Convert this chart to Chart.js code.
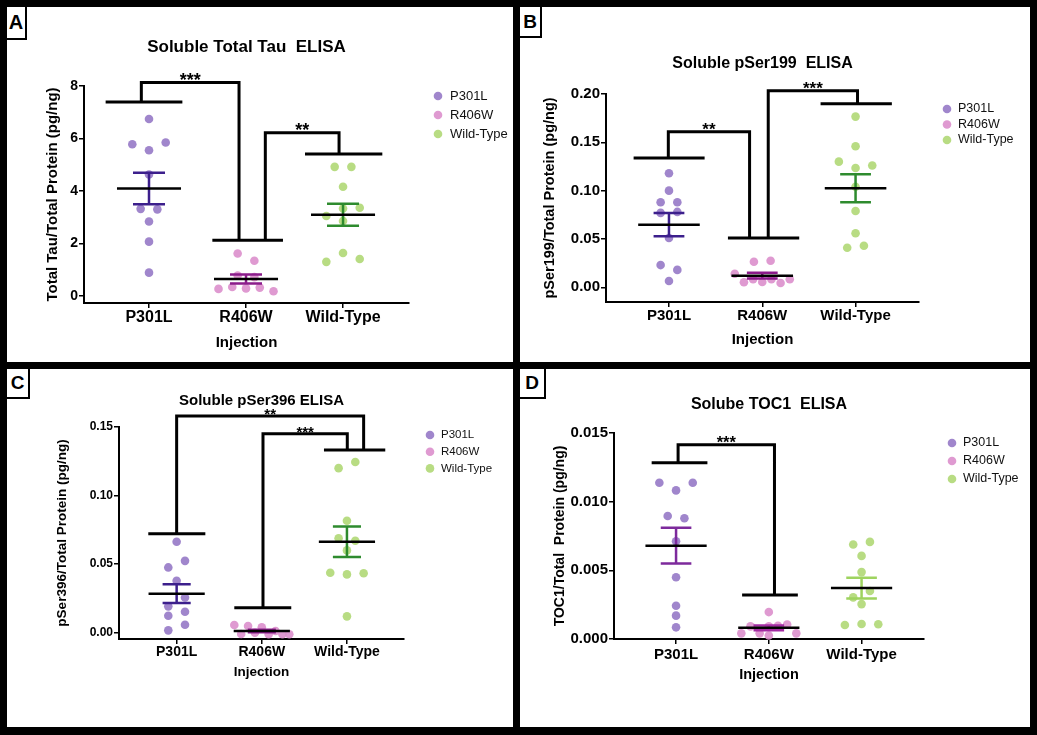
<!DOCTYPE html>
<html>
<head>
<meta charset="utf-8">
<script src="https://cdn.jsdelivr.net/npm/chart.js@4.4.1/dist/chart.umd.min.js"></script>
<style>
  html, body { margin: 0; padding: 0; background: #000; }
  body { width: 1037px; height: 735px; position: relative; overflow: hidden; font-family: 'Liberation Sans', Arial, sans-serif; }
  .panel { position: absolute; background: #fff; }
  .panel canvas { position: absolute; left: 0; top: 0; }
  .tag { position: absolute; left: 0; top: 0; box-sizing: border-box; background: #fff;
         border-right: 2px solid #000; border-bottom: 2px solid #000; font-weight: bold;
         display: flex; align-items: center; justify-content: center; color: #000; }
</style>
</head>
<body>
<script>
const groups = ['P301L', 'R406W', 'Wild-Type'];

// Soluble total tau (pg/ng)
const tauP301L = [6.74, 5.78, 5.55, 5.85, 4.63, 3.32, 3.30, 2.84, 2.07, 0.89];
const tauR406W = [1.62, 1.34, 0.78, 0.72, 0.27, 0.34, 0.29, 0.32, 0.18];
const tauWT = [4.92, 4.92, 4.16, 3.05, 3.33, 3.36, 2.86, 1.30, 1.64, 1.41];
const tauTicks = [0, 2, 4, 6, 8];
const tauBars = [[-0.447, 0.344, 7.39], [0.653, 1.381, 2.12], [1.608, 2.405, 5.41]];
const tauBrackets = [
  { from: -0.079, fromY: 7.39, to: 0.928, toY: 2.12, top: 8.13, stars: '***' },
  { from: 1.199, fromY: 2.12, to: 1.959, toY: 5.41, top: 6.22, stars: '**' }
];

// Soluble pSer199
const s199P301L = [0.118, 0.100, 0.088, 0.088, 0.077, 0.078, 0.051, 0.023, 0.018, 0.0066];
const s199R406W = [0.0265, 0.0275, 0.0140, 0.0052, 0.0083, 0.0055, 0.0083, 0.0045, 0.0083];
const s199WT = [0.1766, 0.146, 0.130, 0.1234, 0.126, 0.104, 0.079, 0.056, 0.041, 0.043];
const s199Ticks = [0, 0.05, 0.10, 0.15, 0.20];
const s199Bars = [[-0.379, 0.382, 0.1338], [0.632, 1.396, 0.051], [1.625, 2.389, 0.190]];
const s199Brackets = [
  { from: -0.007, fromY: 0.1338, to: 0.864, toY: 0.051, top: 0.161, stars: '**' },
  { from: 1.064, fromY: 0.051, to: 2.021, toY: 0.190, top: 0.2034, stars: '***' }
];

// Soluble pSer396
const s396P301L = [0.0663, 0.0476, 0.0524, 0.0379, 0.0192, 0.0257, 0.0124, 0.0153, 0.0017, 0.0058];
const s396R406W = [0.0056, -0.0010, 0.0049, 0.0000, 0.0039, -0.0011, 0.0012, -0.0011, -0.0011];
const s396WT = [0.120, 0.1245, 0.0816, 0.0689, 0.067, 0.060, 0.0437, 0.0425, 0.0434, 0.0119];
const s396Ticks = [0, 0.05, 0.10, 0.15];
const s396Bars = [[-0.333, 0.337, 0.0721], [0.677, 1.346, 0.0182], [1.73, 2.45, 0.1333]];
const s396Brackets = [
  { from: 0, fromY: 0.0721, to: 2.196, toY: 0.1333, top: 0.158, stars: '**' },
  { from: 1.014, fromY: 0.0182, to: 2.004, toY: 0.1333, top: 0.1451, stars: '***' }
];

// Soluble TOC1
const toc1P301L = [0.01138, 0.01082, 0.01138, 0.00896, 0.00879, 0.00712, 0.0045, 0.00242, 0.0017, 0.00085];
const toc1R406W = [0.00196, 0.00041, 0.00092, 0.00041, 0.00092, 0.00097, 0.00026, 0.00106, 0.00041];
const toc1WT = [0.00688, 0.00707, 0.00605, 0.00487, 0.00303, 0.00349, 0.00254, 0.00102, 0.00109, 0.00107];
const toc1Ticks = [0, 0.005, 0.010, 0.015];
const toc1Bars = [[-0.263, 0.338, 0.01283], [0.712, 1.313, 0.0032]];
const toc1Brackets = [
  { from: 0.022, fromY: 0.01283, to: 1.061, toY: 0.0032, top: 0.01414, stars: '***' }
];

const FONT = "'Liberation Sans', Arial, sans-serif";
const pointColors = ['rgba(150,121,198,0.9)', 'rgba(219,143,204,0.9)', 'rgba(176,216,118,0.9)'];
const darkErr = ['#3c1f8c', '#8b1c8b', '#2e8b2e'];

const panels = [
  { id: 'A', box: [7, 7, 506, 355], tag: [20, 33, 20],
    series: [tauP301L, tauR406W, tauWT], ticks: tauTicks, decimals: 0,
    bars: tauBars, brackets: tauBrackets,
    title: 'Soluble Total Tau  ELISA', yTitle: 'Total Tau/Total Protein (pg/ng)',
    xRange: [-0.67, 2.68], yRange: [-0.267, 8],
    area: { l: 77, t: 79, r: 402, b: 296 }, titleY: 40, yTitleX: 46, xTitleY: 336, xTickPad: 0,
    font: { title: 17, yTitle: 15, yTick: 14, xTick: 16, xTitle: 15, legend: 13, stars: 18 },
    legend: { dotX: 431, textX: 443, y: 89, step: 19 }, errColors: darkErr },
  { id: 'B', box: [520, 7, 510, 355], tag: [22, 31, 19],
    series: [s199P301L, s199R406W, s199WT], ticks: s199Ticks, decimals: 2,
    bars: s199Bars, brackets: s199Brackets,
    title: 'Soluble pSer199  ELISA', yTitle: 'pSer199/Total Protein (pg/ng)',
    xRange: [-0.675, 2.68], yRange: [-0.0152, 0.2],
    area: { l: 86, t: 87, r: 399, b: 295 }, titleY: 57, yTitleX: 30, xTitleY: 333, xTickPad: 0,
    font: { title: 16, yTitle: 14.5, yTick: 15, xTick: 15, xTitle: 15, legend: 12.5, stars: 17 },
    legend: { dotX: 427, textX: 438, y: 102, step: 15.5 }, errColors: darkErr },
  { id: 'C', box: [7, 369, 506, 358], tag: [23, 30, 19],
    series: [s396P301L, s396R406W, s396WT], ticks: s396Ticks, decimals: 2,
    bars: s396Bars, brackets: s396Brackets,
    title: 'Soluble pSer396 ELISA', yTitle: 'pSer396/Total Protein (pg/ng)',
    xRange: [-0.677, 2.67], yRange: [-0.0046, 0.15],
    area: { l: 112, t: 58, r: 397, b: 270 }, titleY: 32, yTitleX: 55, xTitleY: 303, xTickPad: 0,
    font: { title: 15, yTitle: 13.5, yTick: 12, xTick: 14, xTitle: 13.5, legend: 11.5, stars: 15 },
    legend: { dotX: 423, textX: 434, y: 66, step: 16.7 }, errColors: darkErr },
  { id: 'D', box: [520, 369, 510, 358], tag: [26, 30, 19],
    series: [toc1P301L, toc1R406W, toc1WT], ticks: toc1Ticks, decimals: 3,
    bars: toc1Bars, brackets: toc1Brackets,
    title: 'Solube TOC1  ELISA', yTitle: 'TOC1/Total  Protein (pg/ng)',
    xRange: [-0.669, 2.673], yRange: [0, 0.015],
    area: { l: 94, t: 64, r: 404, b: 270 }, titleY: 36, yTitleX: 40, xTitleY: 306, xTickPad: 2,
    font: { title: 16, yTitle: 14, yTick: 15, xTick: 15, xTitle: 14.5, legend: 12.5, stars: 16.5 },
    legend: { dotX: 432, textX: 443, y: 74, step: 18 }, errColors: ['#7d2a9c', '#a32ba2', '#9ed35f'] }
];

function mean(a) { return a.reduce((s, v) => s + v, 0) / a.length; }
function sem(a) {
  const m = mean(a);
  const ss = a.reduce((s, v) => s + (v - m) * (v - m), 0);
  return Math.sqrt(ss / (a.length - 1)) / Math.sqrt(a.length);
}

// prism-like scatter: close values share a row, spread around the category
function swarm(values, cat, pxX, pxY) {
  const tol = 9.4 / pxY, gap = 16.7 / pxX, span = 55 / pxX;
  const order = values.map((v, i) => i).sort((a, b) => values[b] - values[a]);
  const xs = [];
  let k = 0;
  while (k < order.length) {
    const row = [order[k]];
    let j = k + 1;
    while (j < order.length && values[order[k]] - values[order[j]] <= tol) row.push(order[j++]);
    row.sort((a, b) => a - b);
    const step = row.length > 1 ? Math.min(gap, span / (row.length - 1)) : 0;
    row.forEach((idx, n) => { xs[idx] = cat + (n - (row.length - 1) / 2) * step; });
    k = j;
  }
  return values.map((v, i) => ({ x: xs[i], y: v }));
}

function lineSet(data, color, width, order) {
  return { type: 'line', data, borderColor: color, borderWidth: width, pointRadius: 0,
           fill: false, spanGaps: false, clip: false, order, borderJoinStyle: 'miter' };
}

const starPlugin = {
  id: 'stars',
  afterDatasetsDraw(chart, args, opts) {
    const { ctx, scales: { x, y } } = chart;
    ctx.save();
    ctx.font = `bold ${opts.size}px ${FONT}`;
    ctx.fillStyle = '#000';
    ctx.textAlign = 'center';
    ctx.textBaseline = 'alphabetic';
    opts.brackets.forEach(b => {
      ctx.fillText(b.stars, x.getPixelForValue((b.from + b.to) / 2), y.getPixelForValue(b.top) + opts.size * 0.2);
    });
    ctx.restore();
  }
};

const dotLegend = {
  id: 'dotLegend',
  afterDraw(chart, args, opts) {
    const ctx = chart.ctx;
    ctx.save();
    ctx.font = `${opts.size}px ${FONT}`;
    ctx.textAlign = 'left';
    ctx.textBaseline = 'middle';
    chart.data.datasets.filter(d => d.type === 'scatter').forEach((d, i) => {
      const y = opts.y + i * opts.step;
      ctx.fillStyle = d.backgroundColor;
      ctx.beginPath();
      ctx.arc(opts.dotX, y, 4.3, 0, Math.PI * 2);
      ctx.fill();
      ctx.fillStyle = '#111';
      ctx.fillText(d.label, opts.textX, y);
    });
    ctx.restore();
  }
};

function buildPanel(p) {
  const [left, top, w, h] = p.box;
  const div = document.createElement('div');
  div.className = 'panel';
  div.style.cssText = `left:${left}px;top:${top}px;width:${w}px;height:${h}px`;
  const canvas = document.createElement('canvas');
  canvas.width = w;
  canvas.height = h;
  div.appendChild(canvas);
  const tag = document.createElement('div');
  tag.className = 'tag';
  tag.style.cssText = `width:${p.tag[0]}px;height:${p.tag[1]}px;font-size:${p.tag[2]}px`;
  tag.textContent = p.id;
  div.appendChild(tag);
  document.body.appendChild(div);

  const a = p.area, f = p.font;
  const pxX = (a.r - a.l) / (p.xRange[1] - p.xRange[0]);
  const pxY = (a.b - a.t) / (p.yRange[1] - p.yRange[0]);

  const datasets = [];
  p.series.forEach((vals, i) => {
    datasets.push({ type: 'scatter', label: groups[i], data: swarm(vals, i, pxX, pxY),
      backgroundColor: pointColors[i], pointRadius: 4.3, pointHoverRadius: 4.3,
      pointBorderWidth: 0, borderWidth: 0, order: 3, clip: false });
  });
  p.series.forEach((vals, i) => {
    const m = mean(vals), s = sem(vals);
    datasets.push(lineSet([
      { x: i - 0.165, y: m + s }, { x: i + 0.165, y: m + s }, { x: i, y: null },
      { x: i, y: m + s }, { x: i, y: m - s }, { x: i, y: null },
      { x: i - 0.165, y: m - s }, { x: i + 0.165, y: m - s }
    ], p.errColors[i], 2.5, 2));
    datasets.push(lineSet([{ x: i - 0.33, y: m }, { x: i + 0.33, y: m }], '#000', 2.5, 1));
  });
  p.bars.forEach(([x0, x1, y]) => datasets.push(lineSet([{ x: x0, y }, { x: x1, y }], '#000', 3, 0)));
  p.brackets.forEach(b => datasets.push(lineSet([
    { x: b.from, y: b.fromY }, { x: b.from, y: b.top }, { x: b.to, y: b.top }, { x: b.to, y: b.toY }
  ], '#000', 3, 0)));

  const titleLh = f.title * 1.2, yLh = f.yTitle * 1.2, xLh = f.xTitle * 1.2;
  const padLeft = p.yTitleX - yLh / 2;
  const xAxisH = p.xTitleY + xLh / 2 - a.b;
  const titlePadTop = p.titleY - titleLh / 2;

  new Chart(canvas, {
    type: 'scatter',
    data: { datasets },
    options: {
      responsive: false,
      animation: false,
      devicePixelRatio: 1,
      events: [],
      layout: { padding: { left: padLeft, right: w - a.r, top: 0, bottom: h - a.b - xAxisH } },
      scales: {
        x: {
          type: 'linear', min: p.xRange[0], max: p.xRange[1],
          afterBuildTicks: s => { s.ticks = groups.map((g, i) => ({ value: i })); },
          afterFit: s => { s.height = xAxisH; },
          ticks: { callback: v => groups[v], color: '#000', padding: p.xTickPad, maxRotation: 0, autoSkip: false,
                   font: { family: FONT, size: f.xTick, weight: 'bold' } },
          grid: { drawOnChartArea: false, drawTicks: true, tickLength: 5, color: '#000', lineWidth: 1.5 },
          border: { color: '#000', width: 2 },
          title: { display: true, text: 'Injection', color: '#000', padding: 0,
                   font: { family: FONT, size: f.xTitle, weight: 'bold' } }
        },
        y: {
          type: 'linear', min: p.yRange[0], max: p.yRange[1],
          afterBuildTicks: s => { s.ticks = p.ticks.map(v => ({ value: v })); },
          afterFit: s => { s.width = a.l - padLeft; },
          ticks: { callback: v => v.toFixed(p.decimals), color: '#000', padding: 1,
                   font: { family: FONT, size: f.yTick, weight: 'bold' } },
          grid: { drawOnChartArea: false, drawTicks: true, tickLength: 5, color: '#000', lineWidth: 1.5 },
          border: { color: '#000', width: 2 },
          title: { display: true, text: p.yTitle, color: '#000', padding: 0,
                   font: { family: FONT, size: f.yTitle, weight: 'bold' } }
        }
      },
      plugins: {
        legend: { display: false },
        tooltip: { enabled: false },
        title: { display: true, text: p.title, color: '#000', fullSize: false,
                 font: { family: FONT, size: f.title, weight: 'bold' },
                 padding: { top: titlePadTop, bottom: a.t - titlePadTop - titleLh } },
        stars: { brackets: p.brackets, size: f.stars },
        dotLegend: { dotX: p.legend.dotX, textX: p.legend.textX, y: p.legend.y, step: p.legend.step, size: f.legend }
      }
    },
    plugins: [starPlugin, dotLegend]
  });
}

panels.forEach(buildPanel);
</script>
</body>
</html>
